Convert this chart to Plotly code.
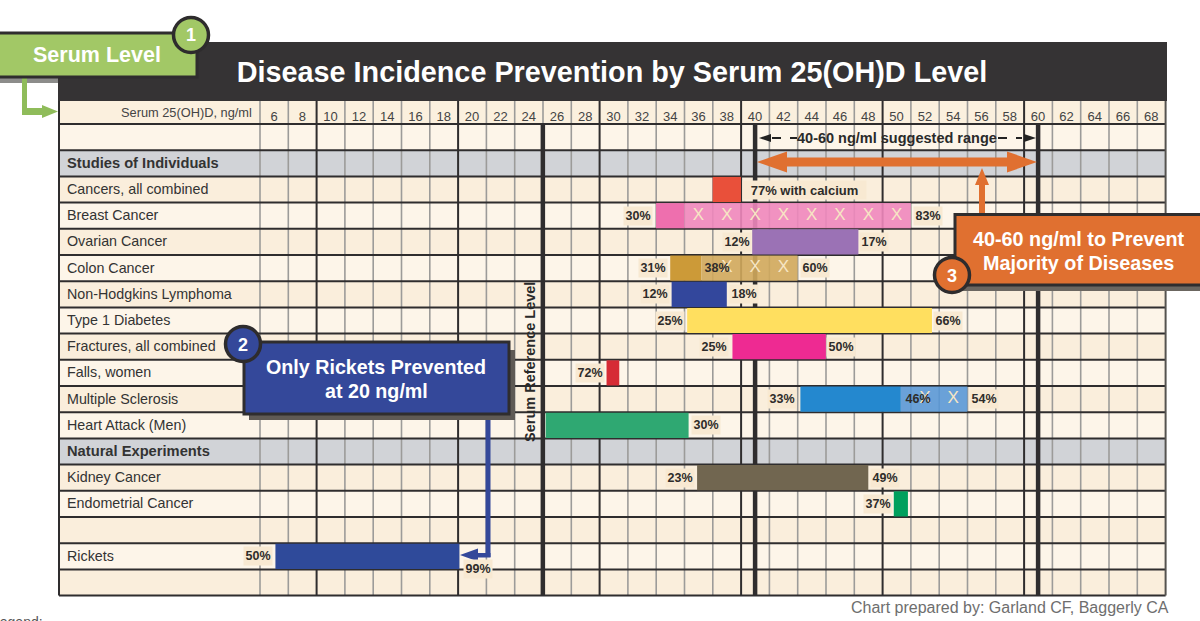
import plotly.graph_objects as go

W, H = 1200, 621
COL_PX = 14.15      # pixels per ng/ml
ROW_PX = 26.2       # pixels per table row
X6_PX, TOP_PX = 274.0, 124.0

ticks = list(range(6, 70, 2))
rows = ["", "Studies of Individuals", "Cancers, all combined", "Breast Cancer", "Ovarian Cancer",
        "Colon Cancer", "Non-Hodgkins Lymphoma", "Type 1 Diabetes", "Fractures, all combined",
        "Falls, women", "Multiple Sclerosis", "Heart Attack (Men)", "Natural Experiments",
        "Kidney Cancer", "Endometrial Cancer", "", "Rickets", ""]
group_rows = ["Studies of Individuals", "Natural Experiments"]

# solid bars: row, start, end (ng/ml), colour
solid_rows = ["Cancers, all combined", "Breast Cancer", "Ovarian Cancer", "Colon Cancer",
              "Non-Hodgkins Lymphoma", "Type 1 Diabetes", "Fractures, all combined", "Falls, women",
              "Multiple Sclerosis", "Heart Attack (Men)", "Kidney Cancer", "Endometrial Cancer", "Rickets"]
solid_start = [37, 33, 39.8, 34, 34.1, 35.2, 38.4, 29.5, 43.2, 25.2, 35.9, 49.8, 6.1]
solid_end = [39, 35, 47.3, 36.2, 38, 52.5, 45, 30.4, 50.3, 35.3, 48, 50.8, 19.1]
solid_color = ["#E9503A", "#EE6FAE", "#9B72B5", "#CC9A38", "#33479C", "#FFDF5F", "#EE2A92",
               "#D62B35", "#2488CF", "#2FA872", "#716650", "#00A05D", "#2F4A9A"]

# lighter segments that carry the X marks
proj_rows = ["Breast Cancer", "Colon Cancer", "Multiple Sclerosis"]
proj_start = [35, 36.2, 50.3]
proj_end = [51, 43, 55]
proj_color = ["rgba(240,135,188,0.9)", "rgba(208,168,92,0.9)", "rgba(85,150,215,0.88)"]

x_mark_rows = ["Breast Cancer"] * 8 + ["Colon Cancer"] * 3 + ["Multiple Sclerosis"] * 2
x_mark_vals = [36, 38, 40, 42, 44, 46, 48, 50, 38, 40, 42, 52, 54]

# percent labels: row, position (ng/ml), text
label_rows = ["Breast Cancer", "Breast Cancer", "Ovarian Cancer", "Ovarian Cancer",
              "Colon Cancer", "Colon Cancer", "Colon Cancer", "Non-Hodgkins Lymphoma", "Non-Hodgkins Lymphoma",
              "Type 1 Diabetes", "Type 1 Diabetes", "Fractures, all combined", "Fractures, all combined",
              "Falls, women", "Multiple Sclerosis", "Multiple Sclerosis", "Multiple Sclerosis",
              "Heart Attack (Men)", "Kidney Cancer", "Kidney Cancer", "Endometrial Cancer", "Rickets", "Rickets"]
label_vals = [31.7, 52.2, 38.7, 48.4, 32.8, 37.3, 44.2, 32.9, 39.2, 34.0, 53.6, 37.1, 46.1,
              28.3, 41.9, 51.5, 56.2, 36.5, 34.7, 49.2, 48.65, 4.84, 20.4]
label_text = ["30%", "83%", "12%", "17%", "31%", "38%", "60%", "12%", "18%", "25%", "66%",
              "25%", "50%", "72%", "33%", "46%", "54%", "30%", "23%", "49%", "37%", "50%", "99%"]
label_on_bar = [False, False, False, False, False, True, False, False, False, False, False,
                False, False, False, False, True, False, False, False, False, False, False, False]
label_row_shift = [0] * 22 + [0.5]
calcium_row, calcium_val, calcium_text = "Cancers, all combined", 43.5, "77% with calcium"
thick_lines = [25, 40, 60]


def X(px):
    return 6 + (px - X6_PX) / COL_PX


def Y(py):
    return (py - TOP_PX) / ROW_PX


def ridx(name):
    return rows.index(name) + 0.5


def rect(x0, y0, x1, y1, fill, layer="below", line=None, lw=0):
    return dict(type="rect", xref="x", yref="y", x0=X(x0), x1=X(x1), y0=Y(y0), y1=Y(y1), layer=layer,
                fillcolor=fill, line=dict(color=line or fill, width=lw))


def seg(x0, y0, x1, y1, color, width, layer="below", dash=None):
    return dict(type="line", xref="x", yref="y", x0=X(x0), x1=X(x1), y0=Y(y0), y1=Y(y1), layer=layer,
                line=dict(color=color, width=width, dash=dash or "solid"))


def poly(points, fill, layer="above"):
    path = "M " + " L ".join(f"{X(a):.4f},{Y(b):.4f}" for a, b in points) + " Z"
    return dict(type="path", xref="x", yref="y", path=path, fillcolor=fill, layer=layer, line=dict(width=0))


def circle(cx, cy, r, fill, line="#2E2C2D"):
    return dict(type="circle", xref="x", yref="y", x0=X(cx - r), x1=X(cx + r), y0=Y(cy - r), y1=Y(cy + r),
                fillcolor=fill, layer="above", line=dict(color=line, width=3.5))


def note(px, py, text, size, color="white", bold=True, xanchor="center", yanchor="middle", **kw):
    t = f"<b>{text}</b>" if bold else text
    return dict(xref="x", yref="y", x=X(px), y=Y(py), text=t, showarrow=False, xanchor=xanchor, yanchor=yanchor,
                font=dict(family="Liberation Sans", size=size, color=color), **kw)


DARK = "#2F2D2E"
GREY_LINE = "#9C9B99"
LIGHT, TAN, GROUP = "#FDF5E9", "#FAEEDC", "#D1D3D7"
TABLE_L, TABLE_R, HEAD_T = 59, 1165.6, 101
TABLE_B = TOP_PX + ROW_PX * len(rows)

shapes = []
# title band and header cell
shapes.append(rect(TABLE_L - 1, 42, 1167, 101, "#353334"))
shapes.append(rect(TABLE_L, HEAD_T, TABLE_R, TOP_PX, "#FBF0DE"))
# row backgrounds
for i, name in enumerate(rows):
    fill = GROUP if name in group_rows else (LIGHT if i in (0, 3, 5, 7, 9, 11, 14, 16) else TAN)
    shapes.append(rect(TABLE_L, TOP_PX + i * ROW_PX, TABLE_R, TOP_PX + (i + 1) * ROW_PX, fill))
# column rules sit on the edges between the even-value columns
for k, t in enumerate(ticks):
    edge = 260 + k * 28.3
    major = t % 10 == 0
    shapes.append(seg(edge, HEAD_T, edge, TABLE_B, DARK if major else GREY_LINE, 2 if major else 1.6))
# row rules
for i in range(len(rows) + 1):
    y = TOP_PX + i * ROW_PX
    shapes.append(seg(TABLE_L, y, TABLE_R, y, DARK, 2))
shapes.append(seg(TABLE_L, HEAD_T, TABLE_L, TABLE_B, DARK, 2))
shapes.append(seg(TABLE_R, HEAD_T, TABLE_R, TABLE_B, "#55534F", 2))
# heavy reference lines
for v in thick_lines:
    px = X6_PX + (v - 6) * COL_PX
    shapes.append(seg(px, TOP_PX, px, TABLE_B, DARK, 4.5))

# suggested-range dashed arrows
shapes.append(seg(772, 138, 797, 138, "#222222", 2.2, "above", "dash"))
shapes.append(seg(998, 138, 1022, 138, "#222222", 2.2, "above", "dash"))
shapes.append(poly([(759, 138), (771, 134), (771, 142)], "#222222"))
shapes.append(poly([(1036, 138), (1024, 134), (1024, 142)], "#222222"))

# orange double arrow and up-pointer
ORANGE = "#E07030"
shapes.append(poly([(757, 162), (787, 151.5), (787, 157.5), (1007, 157.5), (1007, 151.5), (1037, 162),
                    (1007, 172.5), (1007, 166.5), (787, 166.5), (787, 172.5)], ORANGE))
shapes.append(poly([(982, 168), (989, 185), (985, 185), (985, 216), (979, 216), (979, 185), (975, 185)], ORANGE))

# callout 3
shapes.append(rect(960, 280, 1200, 291, "#6B6660", "above"))
shapes.append(rect(955, 214.5, 1203, 285, ORANGE, "above", DARK, 3))
shapes.append(circle(952, 275, 17.5, ORANGE))

# callout 2 and its arrow
BLUE = "#34489A"
shapes.append(rect(488 - 2.5, 415, 488 + 2.5, 557, BLUE, "above"))
shapes.append(poly([(460, 555), (478, 548.5), (478, 553), (490.5, 553), (490.5, 557.5), (478, 557.5),
                    (478, 561.5)], BLUE))
shapes.append(rect(249, 350, 515, 420, "#5F5A55", "above"))
shapes.append(rect(244, 342, 509, 414, BLUE, "above", DARK, 3))
shapes.append(circle(243, 344, 17.5, BLUE))

# serum-level flag
GREEN = "#A2C866"
shapes.append(rect(0, 78, 58, 83, "#8C8C8A", "above"))
shapes.append(poly([(22, 78), (27, 78), (27, 108), (42, 108), (42, 105), (58, 111.5), (42, 118), (42, 115),
                    (22, 115)], "#8FBC5A"))
shapes.append(rect(-3, 33, 197, 77, GREEN, "above", DARK, 3))
shapes.append(circle(191, 35, 17.5, GREEN))

annotations = [
    note(97, 55, "Serum Level", 21.5),
    note(191, 35, "1", 18),
    note(243, 345, "2", 18),
    note(952, 276, "3", 18),
    note(376, 367, "Only Rickets Prevented", 19.7),
    note(376, 391, "at 20 ng/ml", 19.7),
    note(1078, 239, "40-60 ng/ml to Prevent", 19.8),
    note(1078, 263, "Majority of Diseases", 19.8),
    note(896.5, 138, "40-60 ng/ml suggested range", 14.5, "#2A2A2A"),
    note(254, 112.5, "Serum 25(OH)D, ng/ml", 12.8, "#444444", False, "right"),
    note(1171, 607, "Chart prepared by: Garland CF, Baggerly CA", 16, "#6E6E6E", False, "right"),
    note(45, 612, "Legend:", 14, "#555555", False, "right", "top"),
]
annotations.append(dict(xref="x", yref="y", x=X(530), y=Y(362), text="<b>Serum Reference Level</b>", textangle=-90,
                        showarrow=False, font=dict(family="Liberation Sans", size=14.5, color="#2A2A2A")))
# row names
for name in rows:
    if name:
        bold = name in group_rows
        annotations.append(note(64.5, TOP_PX + (rows.index(name) + 0.5) * ROW_PX - 0.5, name,
                                14.7 if bold else 14.3, "#333333", bold, "left"))

fig = go.Figure()
fig.add_trace(go.Bar(orientation="h", y=[ridx(r) for r in solid_rows], base=solid_start,
                     x=[e - s for s, e in zip(solid_start, solid_end)], width=0.96,
                     marker=dict(color=solid_color, line=dict(width=0)), showlegend=False, hoverinfo="skip"))
fig.add_trace(go.Bar(orientation="h", y=[ridx(r) for r in proj_rows], base=proj_start,
                     x=[e - s for s, e in zip(proj_start, proj_end)], width=0.96,
                     marker=dict(color=proj_color, line=dict(width=0)), showlegend=False, hoverinfo="skip"))
fig.add_trace(go.Scatter(x=x_mark_vals, y=[ridx(r) for r in x_mark_rows], mode="text", text=["X"] * len(x_mark_vals),
                         textfont=dict(family="Liberation Sans", size=17, color="#F7E6C4"),
                         showlegend=False, hoverinfo="skip"))
for r, v, t, on_bar, dy in zip(label_rows, label_vals, label_text, label_on_bar, label_row_shift):
    annotations.append(dict(x=v, y=ridx(r) + dy, xref="x", yref="y", text=f"<b>{t}</b>", showarrow=False,
                            bgcolor="rgba(0,0,0,0)" if on_bar else "#F8E9D2", borderpad=0, width=28, height=18,
                            font=dict(family="Liberation Sans", size=12.5, color="#2E2C2A")))
annotations.append(dict(x=calcium_val, y=ridx(calcium_row), xref="x", yref="y", text=f"<b>{calcium_text}</b>",
                        showarrow=False, bgcolor="#F8E9D2", borderpad=0, width=123, height=18,
                        font=dict(family="Liberation Sans", size=13, color="#2E2C2A")))

fig.update_layout(
    width=W, height=H, margin=dict(l=0, r=0, t=0, b=0), paper_bgcolor="white", plot_bgcolor="white",
    barmode="overlay", showlegend=False, shapes=shapes, annotations=annotations,
    font=dict(family="Liberation Sans"),
    title=dict(text="<b>Disease Incidence Prevention by Serum 25(OH)D Level</b>", x=612 / W, xanchor="center",
               y=1 - 72 / H, yanchor="middle", font=dict(family="Liberation Sans", size=28.8, color="white")),
    xaxis=dict(range=[X(0), X(W)], tickvals=ticks, ticktext=[str(t) for t in ticks], side="top", anchor="free",
               position=(H - TOP_PX) / H, showgrid=False, zeroline=False, showline=False, ticks="",
               tickfont=dict(family="Liberation Sans", size=13, color="#444444"), automargin=False,
               fixedrange=True),
    yaxis=dict(range=[Y(H), Y(0)], showgrid=False, zeroline=False, showticklabels=False, ticks="", automargin=False,
               fixedrange=True),
)
fig.write_html("out.html", post_script="document.body.style.margin='0';", config={"displayModeBar": False})
